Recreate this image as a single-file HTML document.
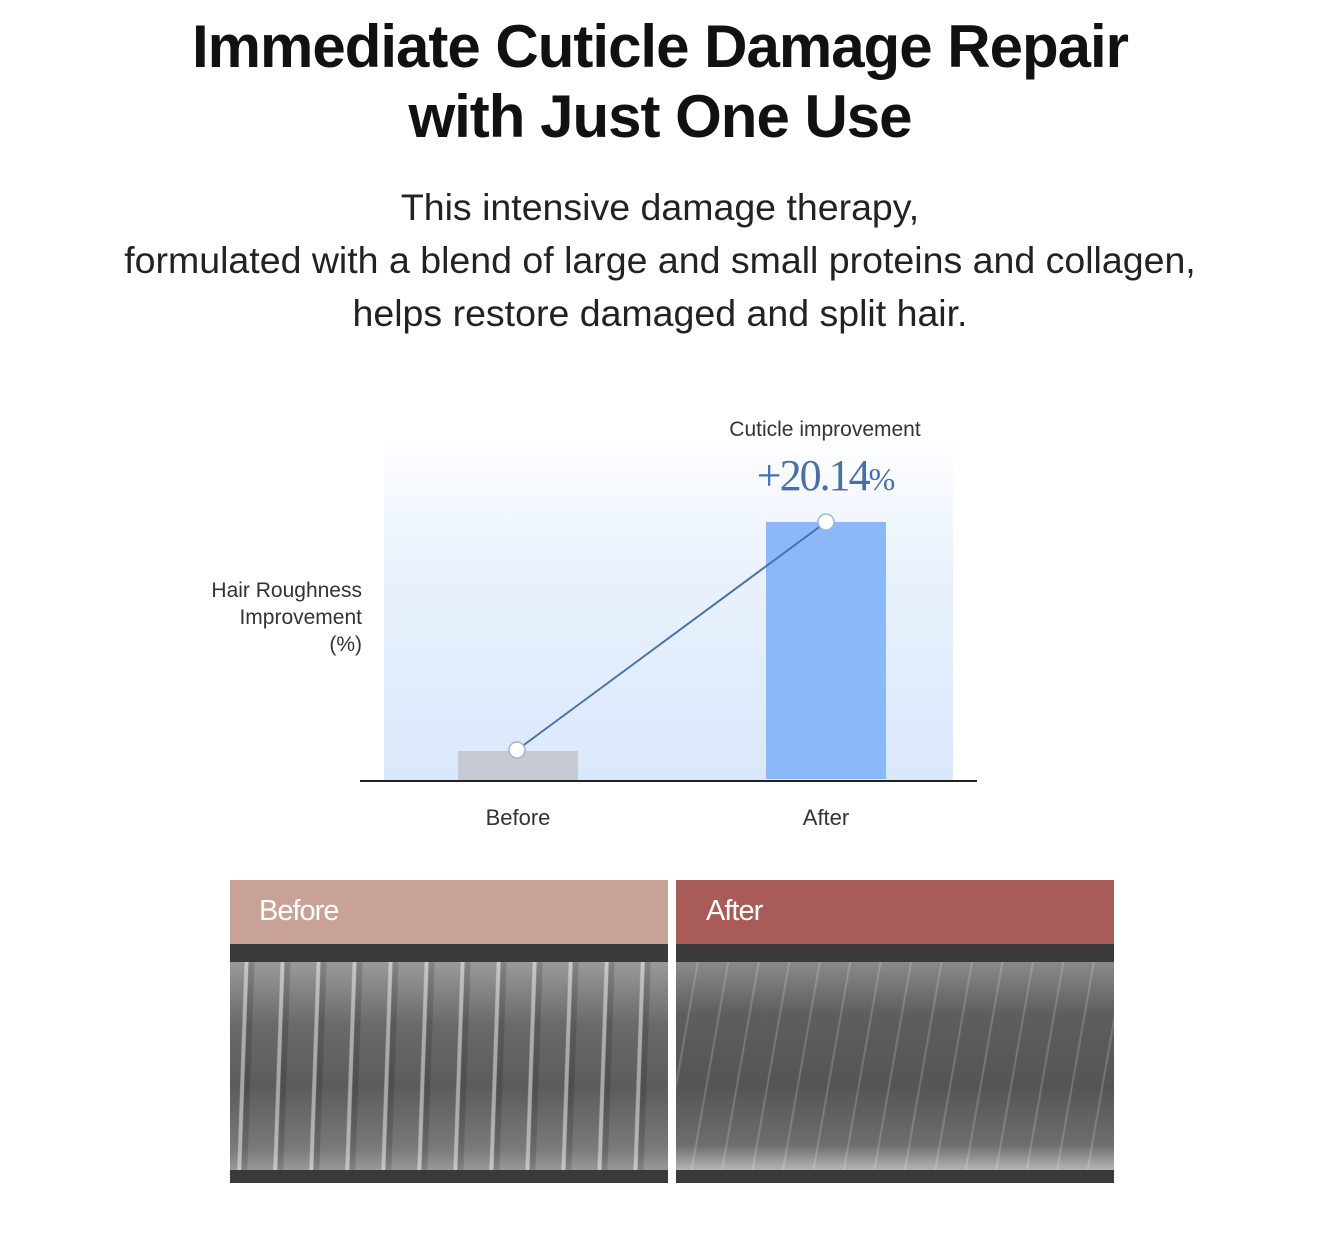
<!DOCTYPE html>
<html><head><meta charset="utf-8"><style>
body{margin:0;width:1320px;height:1243px;background:#fff;position:relative;overflow:hidden;font-family:"Liberation Sans",sans-serif;}
.a{position:absolute;}
h1{position:absolute;left:0;width:1320px;top:12px;margin:0;text-align:center;font-size:60px;line-height:70px;font-weight:bold;color:#111;letter-spacing:-1px;}
.sub{position:absolute;left:0;width:1320px;top:181px;text-align:center;font-size:37.5px;line-height:53px;color:#222;}
.hair{position:absolute;top:962px;height:208px;}
</style></head><body>
<h1>Immediate Cuticle Damage Repair<br>with Just One Use</h1>
<div class="sub">This intensive damage therapy,<br>formulated with a blend of large and small proteins and collagen,<br>helps restore damaged and split hair.</div>

<div class="a" style="left:384px;top:440px;width:569px;height:340px;background:linear-gradient(#fdfeff,#e9f1fc 40%,#dae8fb);"></div>
<div class="a" style="left:458px;top:751px;width:120px;height:29px;background:#c5cad3"></div>
<div class="a" style="left:766px;top:522px;width:120px;height:257px;background:#8ab8f8"></div>
<div class="a" style="left:360px;top:780px;width:617px;height:2px;background:#222"></div>
<svg class="a" style="left:0;top:0" width="1320" height="1243">
<line x1="517" y1="750" x2="826" y2="522" stroke="#4a72a6" stroke-width="2"/>
<circle cx="517" cy="750" r="8" fill="#fff" stroke="#9fb6d3" stroke-width="1.5"/>
<circle cx="826" cy="522" r="8" fill="#fff" stroke="#9fb6d3" stroke-width="1.5"/>
</svg>
<div class="a" style="left:700px;top:418px;width:250px;text-align:center;font-size:21px;color:#333">Cuticle improvement</div>
<div class="a" style="left:700px;top:450px;width:250px;text-align:center;font-size:44px;color:#4a6fa5;font-family:'Liberation Serif',serif;letter-spacing:-2px">+20.14<span style="font-size:32px">%</span></div>
<div class="a" style="left:160px;top:577px;width:202px;text-align:right;font-size:21px;line-height:27px;color:#333">Hair Roughness<br>Improvement<br>(%)</div>
<div class="a" style="left:458px;top:805px;width:120px;text-align:center;font-size:22px;color:#333">Before</div>
<div class="a" style="left:766px;top:805px;width:120px;text-align:center;font-size:22px;color:#333">After</div>

<div class="a" style="left:230px;top:880px;width:438px;height:303px;background:#3a3a3a"></div>
<div class="a" style="left:230px;top:880px;width:438px;height:64px;background:#c9a297"></div>
<div class="a" style="left:259px;top:895px;font-size:29px;color:#fff;letter-spacing:-1px">Before</div>
<div class="hair" style="left:230px;width:438px;background:repeating-linear-gradient(92deg,rgba(255,255,255,0) 0 14px,rgba(255,255,255,.45) 15px 18px,rgba(0,0,0,.15) 19px 24px,rgba(255,255,255,0) 25px 36px),linear-gradient(#9a9a9a,#6a6a6a 30%,#5c5c5c 60%,#7a7a7a 90%,#999)"></div>

<div class="a" style="left:676px;top:880px;width:438px;height:303px;background:#3a3a3a"></div>
<div class="a" style="left:676px;top:880px;width:438px;height:64px;background:#a95c57"></div>
<div class="a" style="left:706px;top:895px;font-size:29px;color:#fff;letter-spacing:-1px">After</div>
<div class="hair" style="left:676px;width:438px;background:repeating-linear-gradient(100deg,rgba(255,255,255,0) 0 20px,rgba(255,255,255,.18) 21px 22px,rgba(255,255,255,0) 23px 30px),linear-gradient(#8a8a8a,#5e5e5e 25%,#555 60%,#6e6e6e 88%,#b5b5b5)"></div>
</body></html>
